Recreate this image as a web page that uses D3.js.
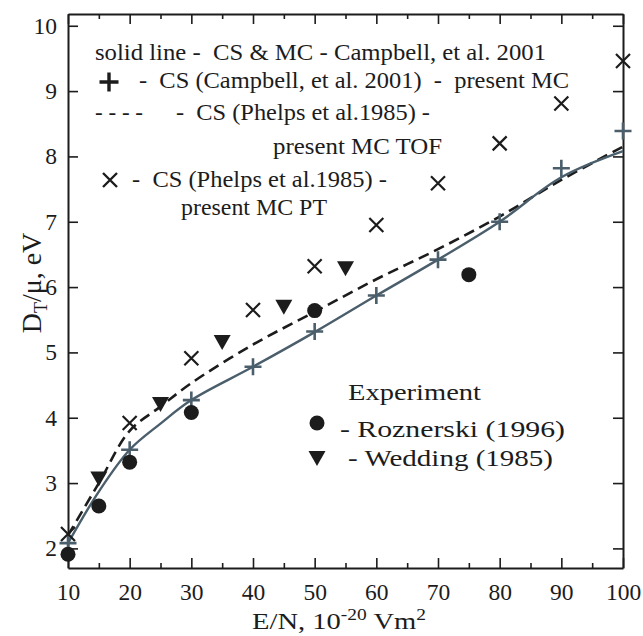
<!DOCTYPE html>
<html><head><meta charset="utf-8">
<script src="https://cdn.jsdelivr.net/npm/d3@7"></script>
<style>
body{margin:0;background:#fff;}
svg{font-family:"Liberation Serif","Times New Roman",serif;}
text{white-space:pre;}
</style></head>
<body><svg id="c" width="643" height="636"></svg>
<script>
// ---- data ----
const xTicks = [10,20,30,40,50,60,70,80,90,100];
const yTicks = [2,3,4,5,6,7,8,9,10];
// solid line: CS & MC Campbell et al. 2001
const solidX = [10,15,20,25,30,40,50,60,70,80,90,100];
const solidY = [2.08,2.87,3.51,3.91,4.27,4.78,5.31,5.87,6.42,7.0,7.68,8.08];
// plus markers: CS (Campbell) - present MC
const plusX = [10,20,30,40,50,60,70,80,90,100];
const plusY = [2.08,3.51,4.27,4.78,5.32,5.87,6.42,7.0,7.82,8.39];
// dashed: CS (Phelps) - present MC TOF
const dashX = [10,15,20,25,30,40,50,60,70,80,90,100];
const dashY = [2.2,3.0,3.8,4.17,4.53,5.12,5.62,6.12,6.58,7.08,7.64,8.15];
// crosses: CS (Phelps) - present MC PT
const crossX = [10,20,30,40,50,60,70,80,90,100];
const crossY = [2.22,3.92,4.91,5.65,6.32,6.95,7.59,8.2,8.81,9.46];
// Roznerski (1996)
const rozX = [10,15,20,30,50,75];
const rozY = [1.91,2.65,3.32,4.08,5.64,6.19];
// Wedding (1985)
const wedX = [15,25,35,45,55];
const wedY = [3.07,4.21,5.16,5.7,6.29];

const svg = d3.select("#c");
const L=68,R=623,T=14,B=568;
const x = d3.scaleLinear().domain([10,100]).range([L,R]);
const y = d3.scaleLinear().domain([1.7,10.18]).range([B,T]);
const ink="#1c1c1c", slate="#4b5e6b";

// axes
function styleAxis(g){g.selectAll("path").attr("stroke",ink).attr("stroke-width",2);
  g.selectAll("line").attr("stroke",ink).attr("stroke-width",1.6);}
function styleText(g){g.selectAll("text").attr("font-size",23.5).attr("fill",ink).attr("font-family","Liberation Serif");}
const minor = d3.range(15,100,10);
svg.append("g").attr("transform",`translate(0,${B})`)
  .call(d3.axisBottom(x).tickValues(xTicks).tickSizeInner(-10).tickSizeOuter(0).tickPadding(15).tickFormat(d3.format("d")))
  .call(styleAxis).call(styleText);
svg.append("g").attr("transform",`translate(0,${B})`)
  .call(d3.axisBottom(x).tickValues(minor).tickSizeInner(-5).tickSizeOuter(0).tickFormat(""))
  .call(styleAxis).call(g=>g.select("path").remove());
svg.append("g").attr("transform",`translate(0,${T})`)
  .call(d3.axisTop(x).tickValues(xTicks).tickSizeInner(-10).tickSizeOuter(0).tickFormat(""))
  .call(styleAxis);
svg.append("g").attr("transform",`translate(0,${T})`)
  .call(d3.axisTop(x).tickValues(minor).tickSizeInner(-5).tickSizeOuter(0).tickFormat(""))
  .call(styleAxis).call(g=>g.select("path").remove());
svg.append("g").attr("transform",`translate(${L},0)`)
  .call(d3.axisLeft(y).tickValues(yTicks).tickSizeInner(-10).tickSizeOuter(0).tickPadding(11).tickFormat(d3.format("d")))
  .call(styleAxis).call(styleText);
svg.append("g").attr("transform",`translate(${R},0)`)
  .call(d3.axisRight(y).tickValues(yTicks).tickSizeInner(-10).tickSizeOuter(0).tickFormat(""))
  .call(styleAxis);

// axis titles
const xt = svg.append("text").attr("x",339).attr("y",629).attr("text-anchor","middle")
  .attr("font-size",23.5).attr("fill",ink).attr("textLength",174).attr("lengthAdjust","spacingAndGlyphs");
xt.append("tspan").text("E/N, 10");
xt.append("tspan").attr("dy",-9).attr("font-size",16).text("-20");
xt.append("tspan").attr("dy",9).text(" Vm");
xt.append("tspan").attr("dy",-9).attr("font-size",16).text("2");
const yt = svg.append("text").attr("transform","translate(41,283) rotate(-90)").attr("text-anchor","middle")
  .attr("font-size",28).attr("fill",ink);
yt.append("tspan").text("D");
yt.append("tspan").attr("dy",6).attr("font-size",18).text("T");
yt.append("tspan").attr("dy",-6).text("/μ, eV");

// lines
const line = d3.line().x(d=>x(d[0])).y(d=>y(d[1])).curve(d3.curveCatmullRom.alpha(0.5));
svg.append("path").datum(dashX.map((v,i)=>[v,dashY[i]])).attr("d",line)
  .attr("fill","none").attr("stroke",ink).attr("stroke-width",2.6).attr("stroke-dasharray","11,6");
svg.append("path").datum(solidX.map((v,i)=>[v,solidY[i]])).attr("d",line)
  .attr("fill","none").attr("stroke",slate).attr("stroke-width",2.4);

// markers
const plusP="M-8.5,0H8.5M0,-8.5V8.5", crossP="M-7,-7L7,7M-7,7L7,-7", triP="M-8.5,-7L8.5,-7L0,8Z";
svg.append("g").selectAll("path").data(plusX.map((v,i)=>[v,plusY[i]])).join("path")
  .attr("d",plusP).attr("transform",d=>`translate(${x(d[0])},${y(d[1])})`)
  .attr("stroke",slate).attr("stroke-width",2.6).attr("fill","none");
svg.append("g").selectAll("path").data(crossX.map((v,i)=>[v,crossY[i]])).join("path")
  .attr("d",crossP).attr("transform",d=>`translate(${x(d[0])},${y(d[1])})`)
  .attr("stroke",ink).attr("stroke-width",2.2).attr("fill","none");
svg.append("g").selectAll("circle").data(rozX.map((v,i)=>[v,rozY[i]])).join("circle")
  .attr("cx",d=>x(d[0])).attr("cy",d=>y(d[1])).attr("r",7.5).attr("fill",ink);
svg.append("g").selectAll("path").data(wedX.map((v,i)=>[v,wedY[i]])).join("path")
  .attr("d",triP).attr("transform",d=>`translate(${x(d[0])},${y(d[1])})`).attr("fill",ink);

// legend
const fs=23;
function txt(s,xx,yy,len){const t=svg.append("text").attr("x",xx).attr("y",yy).attr("font-size",fs)
  .attr("fill",ink).text(s);
  if(len) t.attr("textLength",len).attr("lengthAdjust","spacingAndGlyphs"); return t;}
txt("solid line -  CS & MC - Campbell, et al. 2001",95,60,451);
svg.append("path").attr("d","M-9.5,0H9.5M0,-9.5V9.5").attr("transform","translate(109,82)").attr("stroke",ink).attr("stroke-width",3.4);
txt("-  CS (Campbell, et al. 2001)  -  present MC",139,88,430);
txt("- - - -",95,120,48);
txt("-  CS (Phelps et al.1985) -",176,120,254);
txt("present MC TOF",273,154,169);
svg.append("path").attr("d","M-7,-7L7,7M-7,7L7,-7").attr("transform","translate(110,180)").attr("stroke",ink).attr("stroke-width",2.4);
txt("-  CS (Phelps et al.1985) -",132,187,255);
txt("present MC PT",181,215,146);
txt("Experiment",348,400,133);
svg.append("circle").attr("cx",317).attr("cy",423).attr("r",7.5).attr("fill",ink);
txt("- Roznerski (1996)",340,437,225);
svg.append("path").attr("d",triP).attr("transform","translate(317,458)").attr("fill",ink);
txt("- Wedding (1985)",348,466,205);
</script></body></html>
